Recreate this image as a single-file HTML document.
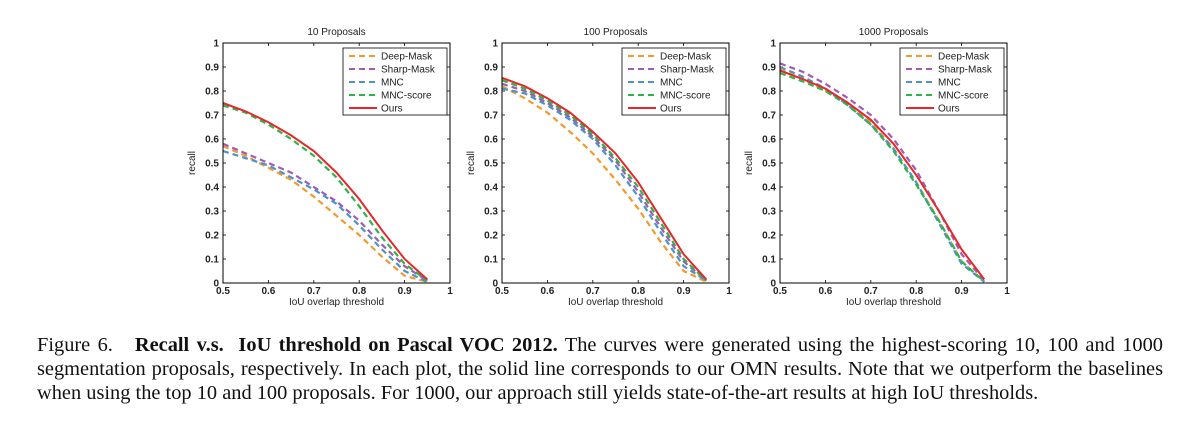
<!DOCTYPE html>
<html><head><meta charset="utf-8"><style>
html,body{margin:0;padding:0;background:#fff;width:1203px;height:439px;overflow:hidden;position:relative;font-family:"Liberation Sans",sans-serif}
svg{position:absolute;left:0;top:0}
.cap{position:absolute;left:37px;width:1126px;font-family:"Liberation Serif",serif;font-size:20.4px;line-height:24px;color:#111;white-space:nowrap}
.j{text-align:justify;text-align-last:justify}
</style></head><body>
<svg id="chart" width="1203" height="320"></svg>
<div class="cap j" style="top:333px">Figure 6. &nbsp; <b>Recall v.s. &nbsp;IoU threshold on Pascal VOC 2012.</b> The curves were generated using the highest-scoring 10, 100 and 1000</div>
<div class="cap j" style="top:357px">segmentation proposals, respectively. In each plot, the solid line corresponds to our OMN results. Note that we outperform the baselines</div>
<div class="cap" style="top:381px">when using the top 10 and 100 proposals. For 1000, our approach still yields state-of-the-art results at high IoU thresholds.</div>
<script>
const xs=[0.5,0.55,0.6,0.65,0.7,0.75,0.8,0.85,0.9,0.95];
const titles=["10 Proposals","100 Proposals","1000 Proposals"];
const seriesNames=["Deep-Mask","Sharp-Mask","MNC","MNC-score","Ours"];
const xTicks=[0.5,0.6,0.7,0.8,0.9,1];
const yTicks=[0,0.1,0.2,0.3,0.4,0.5,0.6,0.7,0.8,0.9,1];
const p1Deep=[0.57,0.53,0.48,0.43,0.36,0.28,0.20,0.11,0.03,0.005];
const p1Sharp=[0.58,0.54,0.50,0.46,0.40,0.34,0.26,0.16,0.07,0.01];
const p1MNC=[0.55,0.52,0.49,0.44,0.39,0.33,0.24,0.14,0.05,0.005];
const p1Score=[0.74,0.71,0.66,0.60,0.53,0.44,0.32,0.19,0.08,0.01];
const p1Ours=[0.75,0.715,0.67,0.615,0.55,0.46,0.35,0.22,0.10,0.015];
const p2Deep=[0.82,0.77,0.71,0.63,0.54,0.43,0.31,0.17,0.05,0.005];
const p2Sharp=[0.83,0.80,0.75,0.69,0.61,0.51,0.38,0.23,0.09,0.01];
const p2MNC=[0.81,0.79,0.74,0.68,0.60,0.49,0.36,0.21,0.07,0.01];
const p2Score=[0.845,0.81,0.76,0.70,0.62,0.52,0.40,0.25,0.10,0.01];
const p2Ours=[0.855,0.82,0.77,0.71,0.63,0.54,0.42,0.27,0.12,0.015];
const p3Deep=[0.89,0.85,0.80,0.75,0.67,0.56,0.42,0.26,0.09,0.005];
const p3Sharp=[0.915,0.88,0.83,0.77,0.70,0.60,0.47,0.30,0.12,0.01];
const p3MNC=[0.90,0.86,0.81,0.74,0.66,0.56,0.42,0.25,0.08,0.005];
const p3Score=[0.875,0.84,0.80,0.74,0.66,0.55,0.41,0.26,0.09,0.005];
const p3Ours=[0.885,0.85,0.81,0.75,0.68,0.58,0.45,0.30,0.14,0.015];
const panels=[[p1Deep,p1Sharp,p1MNC,p1Score,p1Ours],[p2Deep,p2Sharp,p2MNC,p2Score,p2Ours],[p3Deep,p3Sharp,p3MNC,p3Score,p3Ours]];
const colors=["#f39a2a","#a25bb5","#4a94c8","#2bb44a","#e8262b"];
const lefts=[223,502,780], W=227, TOP=43, BOT=283;
const NS="http://www.w3.org/2000/svg";
const svg=document.getElementById('chart');
function mk(t,a,p){const e=document.createElementNS(NS,t);for(const k in a)e.setAttribute(k,a[k]);(p||svg).appendChild(e);return e;}
panels.forEach((ser,pi)=>{
  const L=lefts[pi];
  const sx=v=>L+(v-0.5)/0.5*W;
  const sy=v=>BOT-v*(BOT-TOP);
  const g=mk('g',{});
  
  
  const t=mk('text',{x:L+W/2,y:35,'text-anchor':'middle','font-size':10,fill:'#222'},g);t.textContent=titles[pi];
  
  
  xTicks.forEach(v=>{
    mk('line',{x1:sx(v),x2:sx(v),y1:BOT,y2:BOT-3,stroke:'#000','stroke-width':0.8},g);
    mk('line',{x1:sx(v),x2:sx(v),y1:TOP,y2:TOP+3,stroke:'#000','stroke-width':0.8},g);
    const tt=mk('text',{x:sx(v),y:BOT+11,'text-anchor':'middle','font-size':10,'font-weight':'bold',fill:'#222'},g);tt.textContent=String(v);
    
    
  });
  yTicks.forEach(v=>{
    mk('line',{x1:L,x2:L+3,y1:sy(v),y2:sy(v),stroke:'#000','stroke-width':0.8},g);
    mk('line',{x1:L+W,x2:L+W-3,y1:sy(v),y2:sy(v),stroke:'#000','stroke-width':0.8},g);
    const tt=mk('text',{x:L-4,y:sy(v)+3.5,'text-anchor':'end','font-size':10,'font-weight':'bold',fill:'#222'},g);tt.textContent=String(v);
    
    
  });
  const xl=mk('text',{x:L+W/2,y:BOT+22,'text-anchor':'middle','font-size':10,fill:'#222'},g);xl.textContent='IoU overlap threshold';
  
  
  const yl=mk('text',{x:0,y:0,'text-anchor':'middle','font-size':10,fill:'#222',transform:`translate(${L-28},${(TOP+BOT)/2}) rotate(-90)`},g);yl.textContent='recall';
  
  
  ser.forEach((vals,si)=>{
    const d=vals.map((v,i)=>(i?'L':'M')+sx(xs[i]).toFixed(1)+','+sy(v).toFixed(1)).join(' ');
    const p=mk('path',{d,fill:'none',stroke:colors[si],'stroke-width':si==4?2:2.2,'stroke-dasharray':si==4?'none':'6,4'},g);
    
    
  });
  mk('rect',{x:L,y:TOP,width:W,height:BOT-TOP,fill:'none',stroke:'#000','stroke-width':1},g);
  const lg=mk('g',{},g);
  
  
  const lx=L+W-107, ly=TOP+5;
  mk('rect',{x:lx,y:ly,width:104,height:67,fill:'#fff',stroke:'#000','stroke-width':0.8},lg);
  seriesNames.forEach((n,si)=>{
    const yy=ly+8+si*13;
    mk('line',{x1:lx+6,x2:lx+34,y1:yy,y2:yy,stroke:colors[si],'stroke-width':2,'stroke-dasharray':si==4?'none':'6,4'},lg);
    const tt=mk('text',{x:lx+38,y:yy+3.5,'font-size':10,fill:'#222'},lg);tt.textContent=n;
    
    
  });
});
</script>
</body></html>
